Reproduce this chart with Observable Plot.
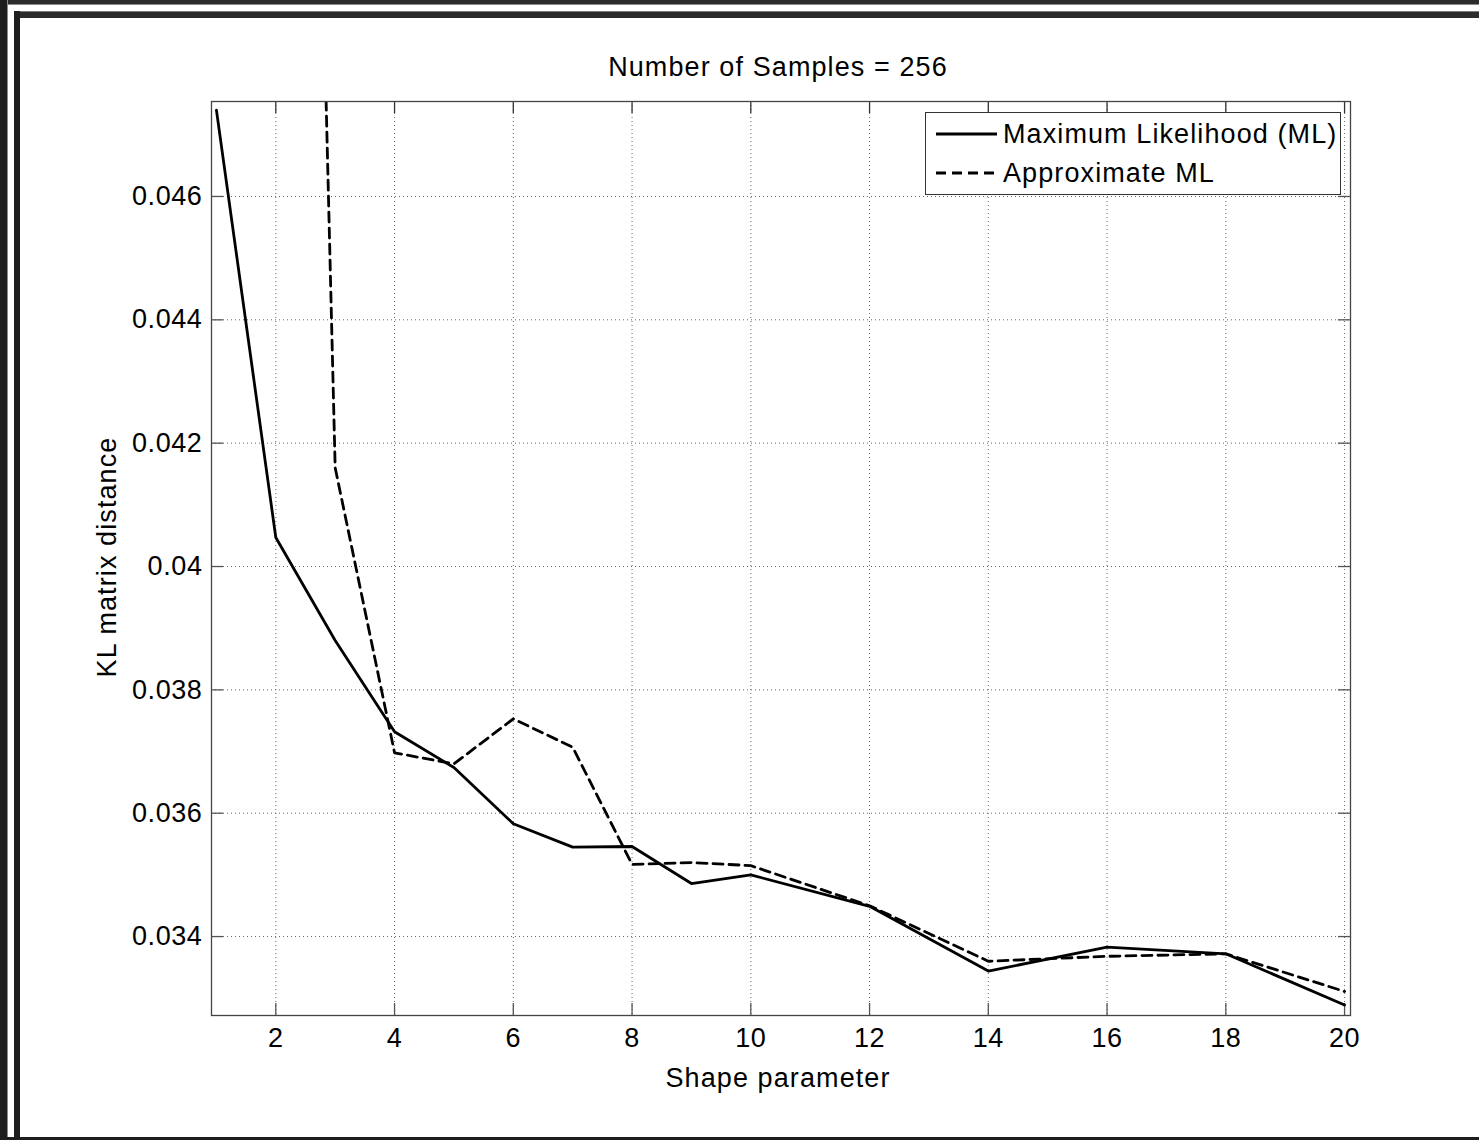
<!DOCTYPE html>
<html>
<head>
<meta charset="utf-8">
<script src="https://cdn.jsdelivr.net/npm/d3@7"></script>
<script src="https://cdn.jsdelivr.net/npm/@observablehq/plot@0.6"></script>
<style>
html, body { margin: 0; padding: 0; background: #fff; }
#page { position: relative; width: 1479px; height: 1140px; overflow: hidden; background: #fff;
  font-family: "Liberation Sans", Arial, Helvetica, sans-serif; color: #000; }
#page svg.chart { position: absolute; left: 0; top: 0; }
.blk { position: absolute; }
.txt { position: absolute; font-size: 27px; line-height: 27px; letter-spacing: 1.1px; white-space: nowrap; }
</style>
</head>
<body>
<div id="page"></div>
<script>
// ---- data ----
const shape = [1, 2, 3, 4, 5, 6, 7, 8, 9, 10, 12, 14, 16, 18, 20];
const mlValues = [0.04740, 0.04047, 0.03880, 0.03732, 0.03674, 0.03583, 0.03545, 0.03546, 0.03486, 0.03500, 0.03449, 0.03344, 0.03383, 0.03372, 0.03289];
const approxShape = [2, 3, 4, 5, 6, 7, 8, 9, 10, 12, 14, 16, 18, 20];
const approxValues = [0.0805, 0.04160, 0.03698, 0.03680, 0.03753, 0.03707, 0.03517, 0.03520, 0.03515, 0.03450, 0.03360, 0.03368, 0.03372, 0.03311];
const xTicks = [2, 4, 6, 8, 10, 12, 14, 16, 18, 20];
const yTicks = [0.034, 0.036, 0.038, 0.040, 0.042, 0.044, 0.046];
const yTickLabels = ["0.034", "0.036", "0.038", "0.04", "0.042", "0.044", "0.046"];
const titleText = "Number of Samples = 256";
const xLabel = "Shape parameter";
const yLabel = "KL matrix distance";
const seriesNames = ["Maximum Likelihood (ML)", "Approximate ML"];

const mlData = shape.map((s, i) => ({s, v: mlValues[i]}));
const approxData = approxShape.map((s, i) => ({s, v: approxValues[i]}));
const yLabelOf = new Map(yTicks.map((t, i) => [t, yTickLabels[i]]));

const W = 1479, H = 1140;
const mT = 101, mB = 125, mL = 211, mR = 129;
const plotW = W - mL - mR, plotH = H - mT - mB;
const tickLen = 12;
const font = "'Liberation Sans', Arial, Helvetica, sans-serif";

const chart = Plot.plot({
  width: W, height: H,
  marginTop: mT, marginBottom: mB, marginLeft: mL, marginRight: mR,
  x: {domain: [0.917, 20.1]},
  y: {domain: [0.03272, 0.04754]},
  style: {fontFamily: font, fontSize: "27px", letterSpacing: "0.6px", background: "transparent", color: "#000", overflow: "visible"},
  marks: [
    Plot.gridX(xTicks, {stroke: "#666", strokeOpacity: 1, strokeDasharray: "1,3", strokeWidth: 1}),
    Plot.gridY(yTicks, {stroke: "#666", strokeOpacity: 1, strokeDasharray: "1,3", strokeWidth: 1}),
    Plot.ruleX(xTicks, {x: d => d, insetTop: plotH - tickLen, stroke: "#555", strokeWidth: 1.3}),
    Plot.ruleX(xTicks, {x: d => d, insetBottom: plotH - tickLen, stroke: "#333", strokeWidth: 1.3}),
    Plot.ruleY(yTicks, {y: d => d, insetRight: plotW - tickLen, stroke: "#555", strokeWidth: 1.3}),
    Plot.ruleY(yTicks, {y: d => d, insetLeft: plotW - tickLen, stroke: "#555", strokeWidth: 1.3}),
    Plot.line(mlData, {x: "s", y: "v", stroke: "#000", strokeWidth: 2.8, clip: true}),
    Plot.line(approxData, {x: "s", y: "v", stroke: "#000", strokeWidth: 2.8, strokeDasharray: "10,6", clip: true}),
    Plot.frame({stroke: "#444", strokeWidth: 1.3}),
    Plot.axisX(xTicks, {anchor: "bottom", tickSize: 0, tickPadding: 12, label: null, fill: "#000"}),
    Plot.axisY(yTicks, {anchor: "left", tickSize: 0, tickPadding: 9, label: null, fill: "#000", tickFormat: d => yLabelOf.get(d)})
  ]
});
chart.classList.add("chart");
const page = document.getElementById("page");
page.appendChild(chart);

function blk(l, t, w, h, bg) {
  const d = document.createElement("div");
  d.className = "blk";
  Object.assign(d.style, {left: l + "px", top: t + "px", width: w + "px", height: h + "px", background: bg});
  page.appendChild(d);
  return d;
}
function txt(s, l, t, extra) {
  const d = document.createElement("div");
  d.className = "txt";
  d.textContent = s;
  Object.assign(d.style, {left: l + "px", top: t + "px"}, extra || {});
  page.appendChild(d);
  return d;
}

// outer frame of the picture
blk(0, 0, W, 4, "#2b2b2b");
blk(0, 4, W, 1, "#8a8a8a");
blk(0, 0, 7, H, "#1e1e1e");
blk(7, 0, 1, H, "#8a8a8a");
blk(14, 11, W - 14, 1, "#7a7a7a");
blk(14, 12, W - 14, 6, "#2b2b2b");
blk(14, 11, 6, H - 11, "#1e1e1e");
blk(0, 1137, W, 3, "#1e1e1e");

// title and axis labels
txt(titleText, 578, 54, {width: "400px", textAlign: "center"});
txt(xLabel, 578, 1065, {width: "400px", textAlign: "center"});
txt(yLabel, 107, 557, {transform: "translate(-50%, -50%) rotate(-90deg)"});

// legend
const leg = blk(925, 112, 416, 83, "#fff");
leg.style.border = "1px solid #333";
leg.style.boxSizing = "border-box";
const ns = "http://www.w3.org/2000/svg";
const lsvg = document.createElementNS(ns, "svg");
lsvg.setAttribute("width", 416); lsvg.setAttribute("height", 83);
lsvg.style.position = "absolute"; lsvg.style.left = "-1px"; lsvg.style.top = "-1px";
[[22, null], [61, "10,6"]].forEach(([yy, dash]) => {
  const ln = document.createElementNS(ns, "line");
  ln.setAttribute("x1", 11); ln.setAttribute("x2", 72);
  ln.setAttribute("y1", yy); ln.setAttribute("y2", yy);
  ln.setAttribute("stroke", "#000"); ln.setAttribute("stroke-width", 2.8);
  if (dash) ln.setAttribute("stroke-dasharray", dash);
  lsvg.appendChild(ln);
});
leg.appendChild(lsvg);
txt(seriesNames[0], 1003, 121);
txt(seriesNames[1], 1003, 160);
</script>
</body>
</html>
